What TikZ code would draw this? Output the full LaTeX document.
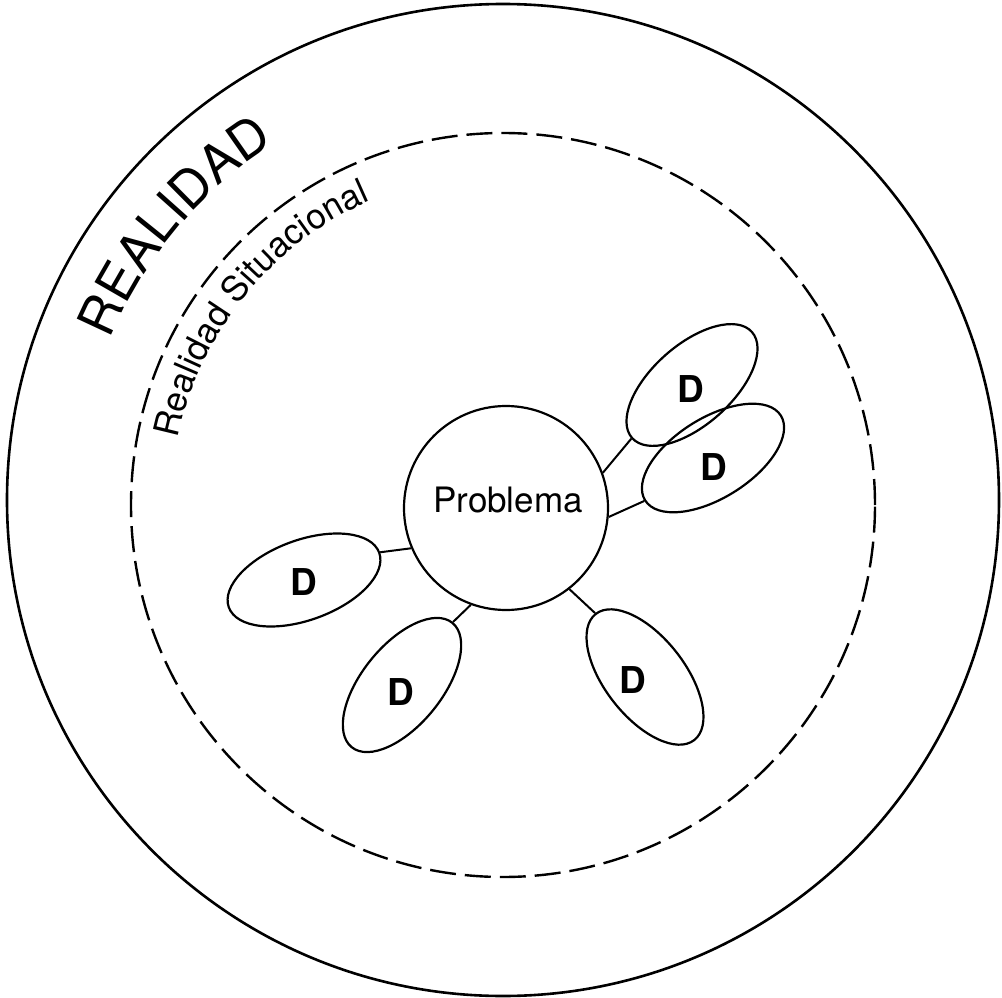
\documentclass[tikz,border=0pt]{standalone}
\usepackage{fontspec}
\setmainfont{TeX Gyre Heros}
\usetikzlibrary{shapes.geometric,decorations.text}
\tikzset{
  outer/.style={line width=2.6pt},
  situ/.style={line width=2.4pt, dash pattern=on 26pt off 9pt},
  prob/.style={circle, draw, line width=2.2pt, minimum size=204pt, inner sep=0pt},
  dell/.style={ellipse, draw, line width=2.2pt, minimum width=160pt, minimum height=80pt, inner sep=0pt},
  dlab/.style={font=\bfseries\fontsize{37}{37}\selectfont, inner sep=0pt},
  link/.style={line width=2pt},
}
\begin{document}
\begin{tikzpicture}[x=1pt,y=1pt]
\useasboundingbox (0,0) rectangle (1002,-998);
% circles
\node[circle, draw, outer, minimum size=992pt, inner sep=0pt] (real) at (503,-500) {};
\node[circle, draw, situ, minimum size=744pt, inner sep=0pt] (sit) at (503,-505) {};
% curved titles
\path[decorate, decoration={text along path, text align=center,
  text={|\fontsize{52}{52}\selectfont|REALIDAD}}]
  (503,-502) ++(170:425) arc[start angle=170, end angle=110, radius=425];
\path[decorate, decoration={text along path, text align=center,
  text={|\fontsize{35}{35}\selectfont|Realidad Situacional}}]
  (503,-505) ++(181:332) arc[start angle=181, end angle=101, radius=332];
% problem
\node[prob] (p) at (506,-508) {};
\node[font=\fontsize{35}{35}\selectfont, inner sep=0pt] (pt) at (508,-500) {Problema};
% D ellipses
\node[dell, rotate=20]    (dL)  at (304,-580) {};
\node[dell, rotate=51]    (dBL) at (402,-685) {};
\node[dell, rotate=128]   (dBR) at (645,-677) {};
\node[dell, rotate=221.5] (dU)  at (692,-385) {};
\node[dell, rotate=212]   (dR)  at (713,-458) {};
\node[dlab] (lL)  at (304,-582) {D};
\node[dlab] (lBL) at (401,-692) {D};
\node[dlab] (lBR) at (633,-680) {D};
\node[dlab] (lU)  at (691,-389) {D};
\node[dlab] (lR)  at (714,-467) {D};
% links
\draw[link] (p.203) -- (dL.east);
\draw[link] (p.250) -- (dBL.east);
\draw[link] (p.308) -- (dBR.east);
\draw[link] (p.20)  -- (dU.east);
\draw[link] (p.355) -- (dR.east);
\end{tikzpicture}
\end{document}
